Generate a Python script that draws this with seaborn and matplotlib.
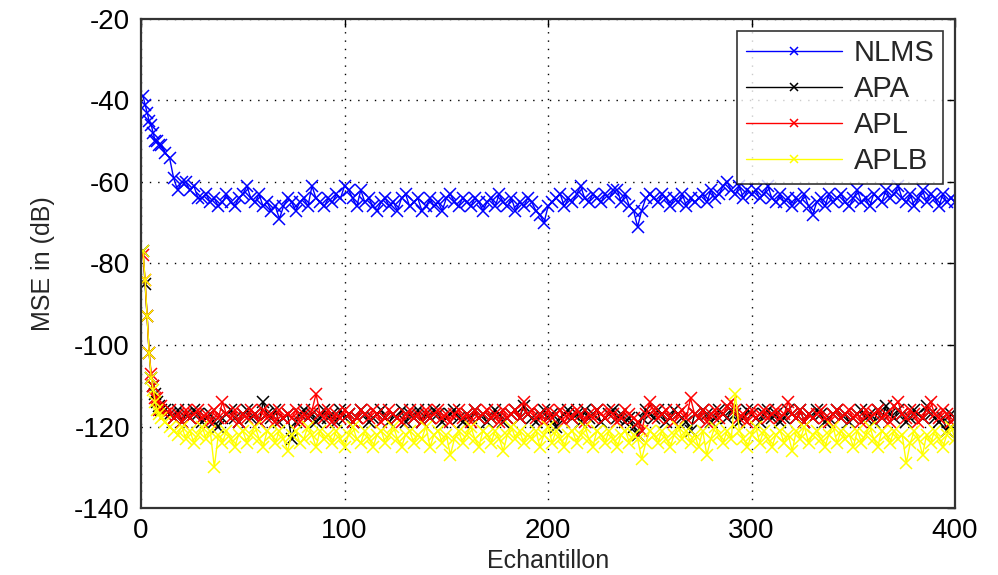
import numpy as np
import pandas as pd
import matplotlib
matplotlib.use("Agg")
import matplotlib.pyplot as plt
import seaborn as sns

# sample index: first 10 samples, then every second sample
samples = list(range(1, 11)) + list(range(12, 401, 2))

nlms = [-39, -41, -43, -45, -46, -48, -50, -50, -51, -51,
        -53, -54, -59, -62, -60, -60, -62, -61, -64, -64,
        -63, -65, -64, -66, -65, -63, -65, -66, -64, -63,
        -61, -64, -65, -63, -66, -65, -67, -66, -69, -66,
        -64, -65, -67, -65, -64, -66, -61, -64, -65, -66,
        -64, -65, -63, -64, -61,
        -62, -64, -66, -62, -65, -64, -66, -67, -65, -64,
        -66, -65, -67, -64, -63, -66, -65, -64, -67, -66,
        -64, -66, -65, -67, -64, -63, -65, -66, -64, -65,
        -66, -64, -65, -67, -65, -64, -66, -63, -65, -66,
        -64, -67, -65, -66, -64, -65, -67, -68, -70, -66,
        -65, -64, -63, -66, -64, -65, -63, -61, -64, -65,
        -63, -64, -65, -63, -64, -62, -62, -65, -63, -66,
        -67, -71, -67, -64, -63,
        -64, -65, -63, -64, -66, -64, -65, -63, -66, -64,
        -65, -64, -63, -65, -62, -64, -63, -61, -60, -62,
        -63, -61, -64, -62, -63,
        -62, -64, -63, -61, -64, -65, -63, -65, -64, -66,
        -64, -65, -63, -66, -68, -65, -64, -66, -63, -65,
        -64, -63, -65, -66, -64, -62, -65, -64, -66, -63,
        -64, -65, -62, -64, -63, -61, -64, -65, -63, -66,
        -64, -62, -65, -63, -64, -66, -63, -65, -64, -65]

apa = [-77, -85, -93, -102, -108, -110, -112, -114, -115, -116,
       -116, -117, -118, -116, -119, -117, -118, -116, -117, -119,
       -118, -117, -119, -120, -118, -117, -116, -118, -119, -117,
       -116, -118, -117, -119, -114, -117, -118, -116, -119, -118,
       -117, -123, -119, -117, -116, -118, -117, -119, -118, -116,
       -118, -117, -119, -116, -118, -117, -119, -118, -116, -117,
       -119, -118, -117, -116, -118, -119, -117, -118, -116, -119,
       -117, -118, -116, -119, -117, -118, -116, -117, -119, -118,
       -117, -116, -118, -119, -117, -118, -116, -118, -117, -119,
       -118, -116, -117, -119, -118, -117, -116, -118, -115, -117,
       -118, -119, -117, -116, -118, -117, -120, -118, -117, -116,
       -118, -117, -119, -116, -118, -117, -116, -119, -118, -117,
       -116, -118, -117, -119, -118, -120, -122, -118, -116, -117,
       -118, -116, -117, -119, -118, -116, -117, -118, -119, -121,
       -117, -118, -116, -117, -119, -118, -116, -117, -118, -116,
       -117, -119, -118, -116, -117, -118, -119, -117, -116, -118,
       -117, -119, -118, -116, -117, -118, -116, -119, -117, -118,
       -116, -117, -119, -118, -117, -116, -118, -117, -119, -118,
       -117, -116, -118, -117, -119, -116, -118, -115, -117, -118,
       -116, -117, -119, -118, -116, -117, -118, -115, -117, -118,
       -119, -118, -121, -117, -118]

apl = [-78, -84, -93, -102, -107, -110, -113, -113, -116, -115,
       -117, -116, -118, -117, -119, -116, -118, -117, -116, -118,
       -117, -119, -116, -118, -114, -117, -118, -116, -119, -117,
       -118, -116, -117, -119, -116, -118, -117, -119, -116, -118,
       -117, -118, -116, -119, -117, -118, -116, -112, -117, -118,
       -116, -119, -117, -118, -116, -117, -119, -118, -116, -117,
       -118, -116, -117, -119, -118, -116, -117, -118, -119, -117,
       -116, -118, -117, -119, -116, -118, -117, -116, -118, -117,
       -119, -117, -116, -118, -117, -119, -116, -118, -117, -116,
       -118, -117, -119, -116, -118, -117, -116, -118, -114, -117,
       -116, -118, -117, -119, -116, -118, -117, -116, -119, -117,
       -118, -116, -117, -119, -117, -118, -116, -117, -118, -116,
       -117, -119, -118, -116, -117, -118, -119, -121, -117, -114,
       -116, -118, -117, -116, -118, -119, -117, -116, -118, -113,
       -117, -118, -116, -119, -117, -116, -118, -117, -115, -114,
       -116, -118, -117, -119, -116, -118, -117, -116, -118, -117,
       -116, -118, -117, -114, -117, -118, -116, -119, -117, -118,
       -117, -116, -118, -119, -117, -116, -118, -117, -116, -118,
       -117, -119, -116, -118, -117, -116, -118, -117, -119, -115,
       -114, -117, -118, -116, -117, -119, -118, -116, -114, -117,
       -118, -116, -117, -119, -118]

aplb = [-77, -84, -93, -102, -108, -111, -114, -116, -117, -118,
        -119, -120, -121, -122, -120, -123, -121, -124, -122, -120,
        -123, -121, -130, -122, -124, -121, -123, -125, -122, -121,
        -124, -122, -120, -123, -125, -121, -122, -124, -121, -123,
        -126, -122, -121, -124, -123, -120, -122, -125, -121, -123,
        -122, -124, -121, -123, -125, -122, -120, -123, -124, -121,
        -123, -125, -122, -121, -124, -122, -120, -123, -125, -122,
        -121, -124, -122, -123, -120, -125, -122, -121, -124, -122,
        -127, -123, -121, -124, -122, -120, -123, -125, -121, -122,
        -124, -121, -123, -126, -122, -120, -123, -121, -124, -122,
        -123, -121, -125, -122, -120, -124, -121, -123, -125, -122,
        -121, -124, -122, -120, -123, -125, -121, -122, -124, -121,
        -123, -125, -122, -121, -124, -122, -123, -128, -124, -121,
        -122, -124, -121, -123, -125, -122, -120, -123, -121, -124,
        -122, -125, -121, -127, -123, -120, -122, -124, -121, -123,
        -112, -121, -123, -125, -122, -120, -124, -121, -123, -125,
        -122, -121, -124, -122, -126, -121, -123, -120, -124, -122,
        -121, -123, -125, -122, -120, -124, -121, -123, -122, -125,
        -121, -124, -122, -120, -123, -125, -121, -122, -124, -121,
        -123, -122, -129, -124, -121, -123, -127, -122, -124, -121,
        -123, -125, -122, -120, -123]

series_names = ["NLMS", "APA", "APL", "APLB"]
series_colors = ["#0000ff", "#000000", "#ff0000", "#ffff00"]

sns.set_style("white")
plt.rcParams["font.family"] = ["Liberation Sans", "DejaVu Sans"]
plt.rcParams["axes.unicode_minus"] = False

fig = plt.figure(figsize=(9.98, 5.75), dpi=100)
ax = fig.add_axes([0.1413, 0.1165, 0.8157, 0.8505])

for name, vals, col in zip(series_names, [nlms, apa, apl, aplb], series_colors):
    sns.lineplot(x=samples, y=vals, ax=ax, color=col, label=name,
                 marker="x", markersize=8.5, markeredgewidth=1.1,
                 markeredgecolor=col, linewidth=1.0, estimator=None, sort=False)

ax.set_xlim(0, 400)
ax.set_ylim(-140, -20)
ax.set_xticks([0, 100, 200, 300, 400])
ax.set_yticks([-140, -120, -100, -80, -60, -40, -20])
ax.grid(True, color="black", linestyle=(0, (1, 5)), linewidth=1.0)
ax.tick_params(direction="in", length=6, width=1, labelsize=20,
               top=True, right=True, colors="black")
ax.tick_params(axis="x", pad=7)
ax.tick_params(axis="y", pad=8)
for sp in ax.spines.values():
    sp.set_visible(True)
    sp.set_color("#333333")
    sp.set_linewidth(1.6)

ax.set_xlabel("Echantillon", fontsize=18, labelpad=4)
ax.set_ylabel("MSE in (dB)", fontsize=18, labelpad=14)

leg = ax.legend(loc="upper right", fontsize=21, frameon=True, fancybox=False,
                handlelength=3.3, borderaxespad=0.4, labelspacing=0.27,
                borderpad=0.3, handletextpad=0.4)
leg.get_frame().set_edgecolor("black")
leg.get_frame().set_linewidth(1.2)
for h in leg.legend_handles:
    h.set_markersize(6)

fig.savefig("out.png", dpi=100)
